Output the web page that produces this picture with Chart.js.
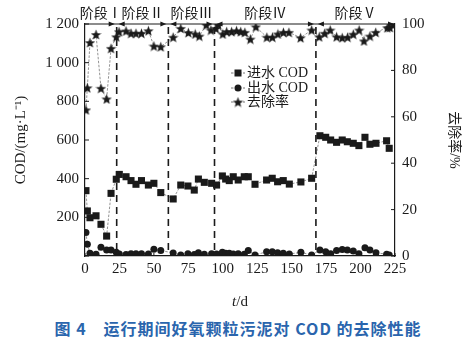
<!DOCTYPE html>
<html>
<head>
<meta charset="utf-8">
<script src="https://cdn.jsdelivr.net/npm/chart.js@4.4.0/dist/chart.umd.min.js"></script>
<style>
  body { margin: 0; background: #fff; }
  #wrap { position: relative; width: 476px; height: 316px; }
  #caption {
    position: absolute; left: 0; top: 316px; width: 476px; text-align: center;
    font: bold 16px "Noto Sans CJK SC", sans-serif; color: #2a65ad; letter-spacing: 1px;
  }
</style>
</head>
<body>
<div id="wrap"><canvas id="chart" width="476" height="316"></canvas></div>
<div id="caption">图 4　运行期间好氧颗粒污泥对 COD 的去除性能</div>
<script>
// sampling days for influent / effluent COD
var days = [0.7, 1.7, 3.6, 8, 11.6, 15.7, 18.9, 22.7, 24.9, 29.8, 33.4, 37, 41, 46, 50, 55, 64, 69.5,
  74.7, 79.3, 82.3, 86.6, 91.9, 95.5, 99.7, 102.1, 104.7, 107.6, 111.2, 115.6, 118.5, 123.4, 131.8,
  135.9, 139.8, 143.9, 148.3, 156.7, 164.5, 170.5, 174.7, 178.3, 182.6, 186.7, 190.4, 194.7, 198.8,
  203.2, 206.8, 211.2, 218.9, 220.8];
var codIn = [338, 233, 198, 208, 164, 103, 324, 397, 422, 410, 390, 371, 390, 367, 376, 328, 295, 367,
  362, 341, 398, 381, 376, 367, 414, 398, 390, 410, 393, 410, 410, 371, 393,
  402, 384, 390, 372, 383, 402, 622, 614, 600, 588, 600, 591, 583, 571,
  614, 578, 583, 596, 557];
var codOut = [122, 61, 14, 9, 45, 31, 31, 19, 10, 8, 12, 12, 12, 10, 35, 28, 16, 5,
  12, 8, 17, 9, 12, 10, 19, 14, 14, 10, 12, 9, 28, 5, 22,
  22, 17, 14, 10, 19, 5, 31, 22, 12, 28, 33, 31, 26, 12,
  43, 31, 17, 9, 5];
// removal rate, %
var rateDays = [0.7, 1.7, 3.6, 8, 11.6, 15.7, 18.9, 22.7, 24.7, 29.8, 33.4, 37, 41, 46, 50, 55, 64, 69.5,
  75, 80, 83, 88, 91.4, 95, 96.8, 100, 102.8, 106.4, 110, 113, 116, 120, 124, 132, 136, 140, 144, 148,
  156.5, 164.5, 170, 174, 178, 182.6, 186.7, 190.6, 194.7, 199, 202.5, 206.8, 211, 219.4, 221.3, 223.7];
var rate = [63, 72.5, 92, 95.5, 72.3, 67.7, 89.5, 94.5, 96.7, 97, 96, 96, 96, 97.1, 90.5, 90.2, 94.3, 98.1,
  96.3, 95.7, 94.8, 99.6, 97.4, 98.1, 99.6, 95.7, 96.7, 96.7, 97.1, 96.7, 96.4, 93.5, 98.8, 94.3, 94.3, 95.7, 96.4, 96.4,
  94.1, 97.4, 94.5, 96, 97.4, 94.5, 94.1, 94.3, 95.6, 97.4, 92.7, 94.8, 96.4, 98.4, 98.5, 99.6];

var stageBounds = [23, 60.5, 94, 167.6];
var stageNames = ["阶段Ⅰ", "阶段Ⅱ", "阶段Ⅲ", "阶段Ⅳ", "阶段Ⅴ"];
var xTicks = [0, 25, 50, 75, 100, 125, 150, 175, 200, 225];

var serif = '"Liberation Serif", "Times New Roman", "Noto Sans CJK SC", serif';
var ink = "#1a1a1a";

function pts(xs, ys) {
  return xs.map(function (x, i) { return { x: x, y: ys[i] }; });
}

// filled five-point star used as marker
function makeStar(size) {
  var c = document.createElement("canvas");
  c.width = size; c.height = size;
  var g = c.getContext("2d");
  var cx = size / 2, cy = size / 2 + 0.6, R = size / 2, r = R * 0.42;
  g.beginPath();
  for (var i = 0; i < 10; i++) {
    var a = -Math.PI / 2 + i * Math.PI / 5;
    var rr = i % 2 ? r : R;
    g.lineTo(cx + rr * Math.cos(a), cy + rr * Math.sin(a));
  }
  g.closePath();
  g.fillStyle = ink;
  g.fill();
  return c;
}
var star = makeStar(11);

var lineStyle = { borderColor: "#666", borderWidth: 0.7, borderDash: [2.5, 1.5], showLine: true, tension: 0 };

var decor = {
  id: "decor",
  afterDraw: function (chart) {
    var ctx = chart.ctx, a = chart.chartArea;
    var x = chart.scales.x, y = chart.scales.y, y1 = chart.scales.y1;
    ctx.save();
    ctx.strokeStyle = ink;
    ctx.fillStyle = ink;

    // top frame line
    ctx.lineWidth = 1.2;
    ctx.beginPath();
    ctx.moveTo(a.left, a.top); ctx.lineTo(a.right, a.top);
    ctx.stroke();

    // inward ticks
    ctx.lineWidth = 1;
    ctx.beginPath();
    y.ticks.forEach(function (t) {
      var py = y.getPixelForValue(t.value);
      ctx.moveTo(a.left, py); ctx.lineTo(a.left + 4, py);
    });
    y1.ticks.forEach(function (t) {
      var py = y1.getPixelForValue(t.value);
      ctx.moveTo(a.right, py); ctx.lineTo(a.right - 4, py);
    });
    x.ticks.forEach(function (t) {
      var px = x.getPixelForValue(t.value);
      ctx.moveTo(px, a.bottom); ctx.lineTo(px, a.bottom - 3);
    });
    ctx.stroke();

    // stage boundaries
    ctx.lineWidth = 1.6;
    ctx.setLineDash([7, 5]);
    ctx.beginPath();
    stageBounds.forEach(function (d) {
      var px = x.getPixelForValue(d);
      ctx.moveTo(px, a.top + 3); ctx.lineTo(px, a.bottom);
    });
    ctx.stroke();
    ctx.setLineDash([]);

    // arrow heads on the top line
    function arrow(tip, dir) {
      ctx.beginPath();
      ctx.moveTo(tip, a.top);
      ctx.lineTo(tip - dir * 6, a.top - 2.5);
      ctx.lineTo(tip - dir * 6, a.top + 2.5);
      ctx.closePath();
      ctx.fill();
    }
    stageBounds.forEach(function (d) {
      var px = x.getPixelForValue(d);
      arrow(px - 2, 1);
      arrow(px + 2, -1);
    });
    arrow(a.right - 1, 1);

    // stage names
    var edges = [x.min].concat(stageBounds, [x.max]);
    ctx.font = '14px ' + serif;
    ctx.textAlign = "center";
    ctx.textBaseline = "middle";
    stageNames.forEach(function (s, i) {
      var mid = (x.getPixelForValue(edges[i]) + x.getPixelForValue(edges[i + 1])) / 2;
      ctx.fillText(s, mid, 14);
    });

    // legend
    var items = [
      { label: "进水 COD", ds: 0 },
      { label: "出水 COD", ds: 1 },
      { label: "去除率", ds: 2 }
    ];
    var lx = 231, ly = [73, 88, 102];
    items.forEach(function (it, i) {
      var yy = ly[i];
      ctx.strokeStyle = "#555";
      ctx.lineWidth = 0.8;
      ctx.setLineDash([2.5, 1.5]);
      ctx.beginPath();
      ctx.moveTo(lx, yy); ctx.lineTo(lx + 14, yy);
      ctx.stroke();
      ctx.setLineDash([]);
      var cx = lx + 7;
      if (it.ds === 0) {
        ctx.fillRect(cx - 3.5, yy - 3.5, 7, 7);
      } else if (it.ds === 1) {
        ctx.beginPath(); ctx.arc(cx, yy, 3.5, 0, Math.PI * 2); ctx.fill();
      } else {
        ctx.drawImage(star, cx - 5.5, yy - 5.5);
      }
      ctx.font = '14px ' + serif;
      ctx.textAlign = "left";
      ctx.fillText(it.label, lx + 16, yy);
    });

    // x title: t/d
    ctx.textAlign = "left";
    ctx.font = 'italic 15px ' + serif;
    var w1 = ctx.measureText("t").width;
    ctx.font = '15px ' + serif;
    var w2 = ctx.measureText("/d").width;
    var sx = (a.left + a.right) / 2 - (w1 + w2) / 2;
    ctx.font = 'italic 15px ' + serif;
    ctx.fillText("t", sx, 302);
    ctx.font = '15px ' + serif;
    ctx.fillText("/d", sx + w1, 302);

    ctx.restore();
  }
};

new Chart(document.getElementById("chart"), {
  type: "line",
  data: {
    datasets: [
      Object.assign({
        label: "进水 COD", data: pts(days, codIn), yAxisID: "y",
        pointStyle: "rect", pointRadius: 5, pointBackgroundColor: ink, pointBorderWidth: 0
      }, lineStyle),
      Object.assign({
        label: "出水 COD", data: pts(days, codOut), yAxisID: "y",
        pointStyle: "circle", pointRadius: 3.5, pointBackgroundColor: ink, pointBorderWidth: 0
      }, lineStyle),
      Object.assign({
        label: "去除率", data: pts(rateDays, rate), yAxisID: "y1",
        pointStyle: star, pointRadius: 5.5
      }, lineStyle)
    ]
  },
  options: {
    responsive: false,
    animation: false,
    devicePixelRatio: 1,
    layout: { padding: { top: 24, left: 0, right: 0, bottom: 0 } },
    plugins: { legend: { display: false }, tooltip: { enabled: false } },
    scales: {
      x: {
        type: "linear", min: 0, max: 225,
        afterBuildTicks: function (s) { s.ticks = xTicks.map(function (v) { return { value: v }; }); },
        ticks: { font: { family: serif, size: 15 }, color: ink, padding: 4, maxRotation: 0 },
        grid: { display: false, drawTicks: false },
        border: { color: ink, width: 1.2 },
        afterFit: function (s) { s.height = 60; }
      },
      y: {
        position: "left", min: 0, max: 1200,
        ticks: {
          stepSize: 200, font: { family: serif, size: 15 }, color: ink, padding: 6,
          callback: function (v) {
            if (v === 0) return "";
            return v >= 1000 ? Math.floor(v / 1000) + " " + String(v % 1000).padStart(3, "0") : v;
          }
        },
        grid: { display: false, drawTicks: false },
        border: { color: ink, width: 1.2 },
        title: {
          display: true, text: "COD/(mg·L⁻¹)", color: ink,
          font: { family: serif, size: 15 }, padding: { top: 12, bottom: 0 }
        },
        afterFit: function (s) { s.width = 85; }
      },
      y1: {
        position: "right", min: 0, max: 100,
        ticks: { stepSize: 20, font: { family: serif, size: 15 }, color: ink, padding: 7 },
        grid: { display: false, drawTicks: false },
        border: { color: ink, width: 1.2 },
        title: {
          display: true, text: "去除率/%", color: ink,
          font: { family: serif, size: 14 }, padding: { top: 14, bottom: 0 }
        },
        afterFit: function (s) { s.width = 81; }
      }
    }
  },
  plugins: [decor]
});
</script>
</body>
</html>
